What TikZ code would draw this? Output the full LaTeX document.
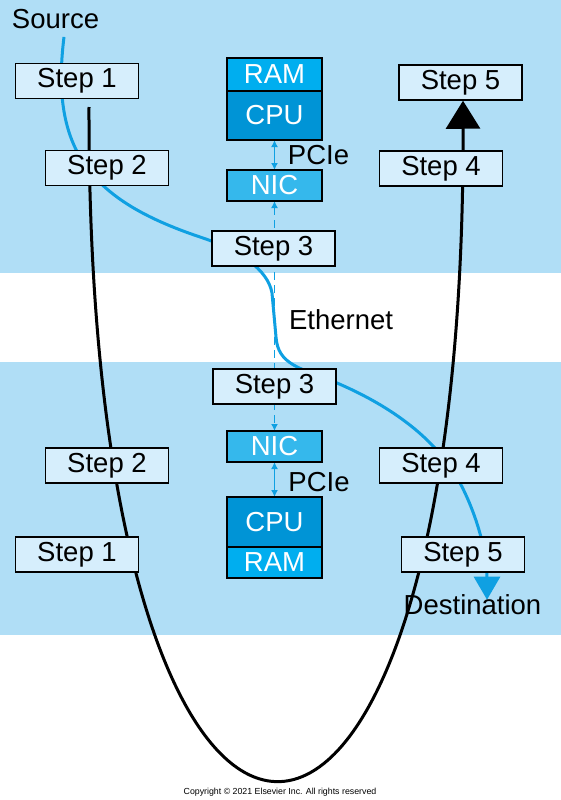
\documentclass[tikz,border=0pt]{standalone}
\usepackage{fontspec}
\setmainfont{Liberation Sans}
\usepackage{xcolor}
\usetikzlibrary{arrows.meta,positioning}
\definecolor{bandblue}{RGB}{176,222,246}
\definecolor{boxfill}{RGB}{214,238,252}
\definecolor{ramblue}{RGB}{0,174,239}
\definecolor{cpublue}{RGB}{0,148,214}
\definecolor{nicblue}{RGB}{53,184,236}
\definecolor{flowblue}{RGB}{15,160,226}
\pgfdeclarelayer{bands}
\pgfdeclarelayer{lines}
\pgfsetlayers{bands,lines,main}
\tikzset{
  bigfont/.style={font=\fontsize{27.5}{30}\selectfont},
  stepbox/.style={draw, fill=boxfill, line width=1.5pt, minimum width=123pt, minimum height=35pt, inner sep=0pt, bigfont},
  hwbox/.style={draw, line width=1.5pt, minimum width=95pt, inner sep=0pt, outer sep=0pt, text=white, bigfont},
  lbl/.style={inner sep=0pt, bigfont},
  flowline/.style={draw=flowblue, line width=3pt, -{Triangle[length=23pt,width=26pt]}},
  uline/.style={draw=black, line width=3pt, -{Triangle[length=28pt,width=34pt]}},
  pciearrow/.style={draw=flowblue, line width=1.5pt, {Latex[length=7pt,width=7pt]}-{Latex[length=7pt,width=7pt]}},
  ethlink/.style={draw=flowblue, line width=1.5pt, dash pattern=on 8pt off 5pt, {Latex[length=7pt,width=7pt]}-{Latex[length=7pt,width=7pt]}}
}

\begin{document}
\begin{tikzpicture}[x=1pt, y=-1pt]
\useasboundingbox (0,0) rectangle (561,800);
\begin{pgfonlayer}{bands}
\fill[bandblue] (0,0) rectangle (561,272.5);
\fill[bandblue] (0,362) rectangle (561,634.5);
\end{pgfonlayer}

\node[lbl] (source) at (55.5,19) {Source};
\node[stepbox] (s1a) at (77,81) {Step 1};
\node[stepbox] (s2a) at (107,168) {Step 2};
\node[stepbox] (s3a) at (273.5,248.5) {Step 3};
\node[stepbox] (s4a) at (441,168.5) {Step 4};
\node[stepbox] (s5a) at (460.5,82.5) {Step 5};

\node[hwbox, fill=ramblue, minimum height=33pt] (rama) at (274.5,74.5) {RAM};
\node[hwbox, fill=cpublue, minimum height=49pt, below=0pt of rama] (cpua) {CPU};
\node[hwbox, fill=nicblue, minimum height=31pt, below=30pt of cpua] (nica) {NIC};
\node[lbl] (pciea) at (318.5,155) {PCIe};

\node[lbl] (ether) at (341,320) {Ethernet};

\node[stepbox] (s3b) at (274.5,386.5) {Step 3};
\node[hwbox, fill=nicblue, minimum height=31pt] (nicb) at (274.5,446.5) {NIC};
\node[hwbox, fill=cpublue, minimum height=50pt, below=35pt of nicb] (cpub) {CPU};
\node[hwbox, fill=ramblue, minimum height=31pt, below=0pt of cpub] (ramb) {RAM};
\node[lbl] (pcieb) at (319,482) {PCIe};

\node[stepbox] (s2b) at (107,465.5) {Step 2};
\node[stepbox] (s1b) at (77,554.5) {Step 1};
\node[stepbox] (s4b) at (441,465.5) {Step 4};
\node[stepbox] (s5b) at (463,554.5) {Step 5};
\node[lbl] (dest) at (472.5,605) {Destination};

\node[inner sep=0pt, font=\fontsize{8.8}{10}\selectfont] (copy) at (280,792) {Copyright \textcopyright\ 2021 Elsevier Inc. All rights reserved};

\coordinate (ustart) at (89,107);

\begin{pgfonlayer}{lines}
\draw[uline] (ustart) .. controls (87,1003) and (465,1003) .. ([xshift=2.5pt]s5a.south);
\draw[flowline] ([xshift=8.5pt,yshift=-8pt]source.south) .. controls (50,150) and (90,200) .. (200,237)
  .. controls (240,250) and (268,270) .. (272,293) -- (276,337)
  .. controls (278,365) and (300,368) .. (337,383)
  .. controls (400,410) and (440,445) .. (460,483)
  .. controls (475,511) and (487,550) .. ([xshift=14.5pt,yshift=-5pt]dest.north);
\draw[ethlink] (nica.south) -- (nicb.north);
\draw[pciearrow] (cpua.south) -- (nica.north);
\draw[pciearrow] (nicb.south) -- (cpub.north);
\end{pgfonlayer}
\end{tikzpicture}
\end{document}
